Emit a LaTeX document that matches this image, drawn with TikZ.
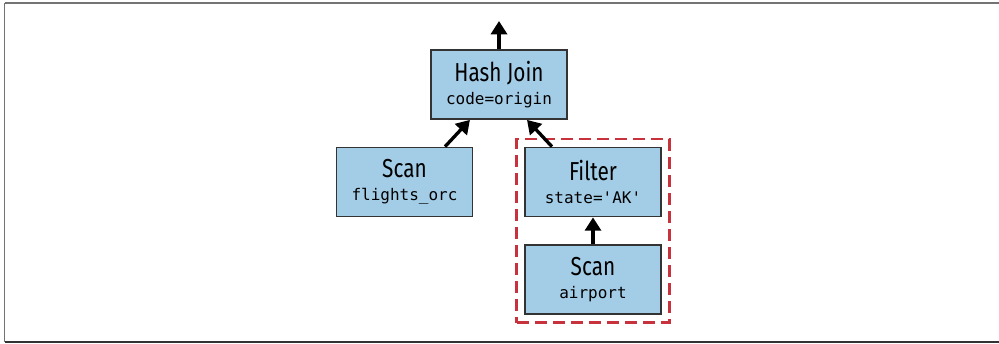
\documentclass[tikz,border=0pt]{standalone}
\usepackage{fontspec}
\setmainfont{Fira Sans}[FakeStretch=0.8]
\setmonofont{DejaVu Sans Mono}
\usetikzlibrary{arrows.meta,fit}
\definecolor{opblue}{RGB}{163,205,230}
\definecolor{opline}{RGB}{51,51,51}
\definecolor{hilite}{RGB}{200,50,60}
\tikzset{
  opbox/.style={draw=opline, fill=opblue, line width=1.1pt, minimum width=102pt,
    minimum height=52pt, align=center, inner sep=0pt, font=\fontsize{19.5}{21}\selectfont},
  flow/.style={line width=2.5pt, -{Triangle[length=10pt,width=12pt]}},
  frameline/.style={line width=1.2pt, draw=black!55}
}
\newcommand{\opargs}[1]{\\[-3.5pt]{\fontsize{12}{14}\ttfamily #1}}
\begin{document}
\begin{tikzpicture}[x=0.75pt,y=-0.75pt]
    \useasboundingbox (0,0) rectangle (999,343);
    % Frame
    \draw[frameline] (4.5,3) -- (999,3);
    \draw[frameline] (4.5,3) -- (4.5,342);
    \draw[frameline, draw=black!80] (4.5,342) -- (999,342);
    % Operators
    \node[opbox] (join) at (499, 84.5) {Hash Join\opargs{code=origin}};
    \node[opbox] (flights) at (404.5, 182) {Scan\opargs{flights\_orc}};
    \node[opbox] (filter) at (593, 182) {Filter\opargs{state='AK'}};
    \node[opbox] (airport) at (593, 279.5) {Scan\opargs{airport}};
    % Pushed-down part
    \node[fit=(filter)(airport), draw=hilite, line width=2.2pt, dash pattern=on 9pt off 4.5pt,
      inner xsep=5.5pt, inner ysep=5.7pt] (pushdown) {};
    % Flow
    \coordinate (result) at (499, 21);
    \draw[flow] (join.north) -- (result);
    \draw[flow] ([xshift=30.4pt]flights.north) -- ([xshift=-21.8pt]join.south);
    \draw[flow] ([xshift=-30.8pt]filter.north) -- ([xshift=21pt]join.south);
    \draw[flow] (airport.north) -- (filter.south);
\end{tikzpicture}
\end{document}
